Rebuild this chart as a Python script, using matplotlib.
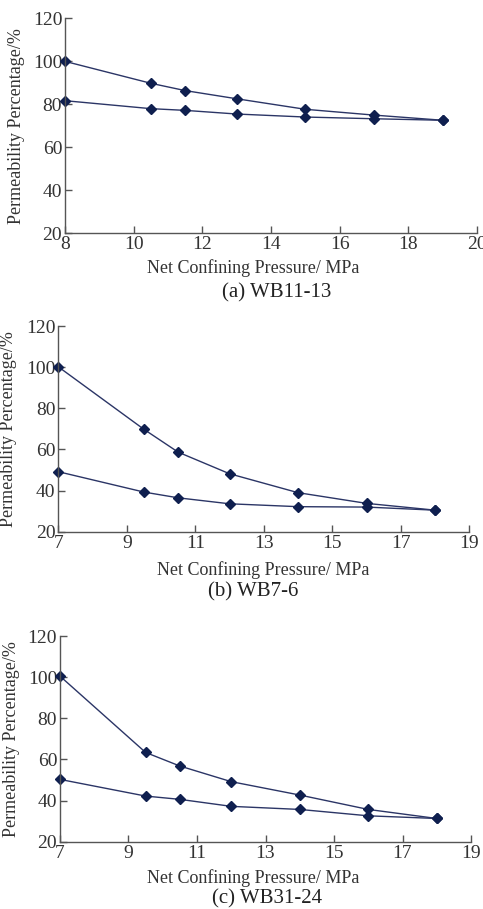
import numpy as np
import matplotlib.pyplot as plt

plt.rcParams['font.family'] = ['Liberation Serif', 'DejaVu Serif']

# Panel (a) WB11-13
x_a = [8, 10.5, 11.5, 13, 15, 17, 19]
up_a = [100, 89.8, 86.4, 82.6, 77.7, 75.0, 72.6]
low_a = [81.7, 78.0, 77.2, 75.5, 74.1, 73.3, 72.6]

# Panel (b) WB7-6
x_b = [7, 9.5, 10.5, 12, 14, 16, 18]
up_b = [100.2, 69.8, 58.7, 48.2, 39.0, 33.8, 30.5]
low_b = [49.2, 39.3, 36.5, 33.6, 32.2, 32.0, 30.5]

# Panel (c) WB31-24
x_c = [7, 9.5, 10.5, 12, 14, 16, 18]
up_c = [100.5, 63.4, 56.8, 49.2, 42.7, 35.7, 31.3]
low_c = [50.3, 42.2, 40.6, 37.2, 35.7, 32.6, 31.3]

panels = [
    ("(a) WB11-13", x_a, up_a, low_a, (8, 20)),
    ("(b) WB7-6", x_b, up_b, low_b, (7, 19)),
    ("(c) WB31-24", x_c, up_c, low_c, (7, 19)),
]

# axes boxes [left, bottom, width, height] and label positions (pixels from top)
boxes = [[0.1346, 0.7433, 0.853, 0.2365],
         [0.1207, 0.4150, 0.851, 0.2263],
         [0.1242, 0.0740, 0.851, 0.2263]]
ylab_x = [25, 17, 20]
xlab_pos = [(253, 268), (263, 570), (253, 878)]
cap_pos = [(277, 293), (253, 592), (267, 899)]

line_col = '#2b3566'
mark_col = '#0f1f4f'
axis_col = '#555555'
text_col = '#333333'

W, H = 483, 909
fig = plt.figure(figsize=(W / 100, H / 100), dpi=100)

for i, (cap, x, up, low, xlim) in enumerate(panels):
    ax = fig.add_axes(boxes[i])
    for y in (up, low):
        ax.plot(x, y, color=line_col, lw=1.0, marker='D', markersize=5,
                markerfacecolor=mark_col, markeredgecolor=mark_col, clip_on=False)
    ax.set_xlim(*xlim)
    ax.set_ylim(20, 120)
    ax.set_xticks(np.arange(xlim[0], xlim[1] + 1, 2))
    ax.set_yticks(np.arange(20, 121, 20))
    for s in ('top', 'right'):
        ax.spines[s].set_visible(False)
    for s in ('left', 'bottom'):
        ax.spines[s].set_color(axis_col)
        ax.spines[s].set_linewidth(1.0)
    ax.tick_params(direction='in', length=5, width=1.0, color=axis_col,
                   labelsize=14, labelcolor=text_col, pad=2)
    ax.set_ylabel("Permeability Percentage/%", fontsize=13, color=text_col)
    ax.yaxis.set_label_coords((ylab_x[i] - boxes[i][0] * W) / (boxes[i][2] * W), 0.5)
    fig.text(xlab_pos[i][0] / W, 1 - xlab_pos[i][1] / H, "Net Confining Pressure/ MPa",
             ha='center', va='center', fontsize=13, color=text_col)
    fig.text(cap_pos[i][0] / W, 1 - cap_pos[i][1] / H, cap,
             ha='center', va='center', fontsize=15, color='#222222')

fig.savefig("out.png", dpi=100)
